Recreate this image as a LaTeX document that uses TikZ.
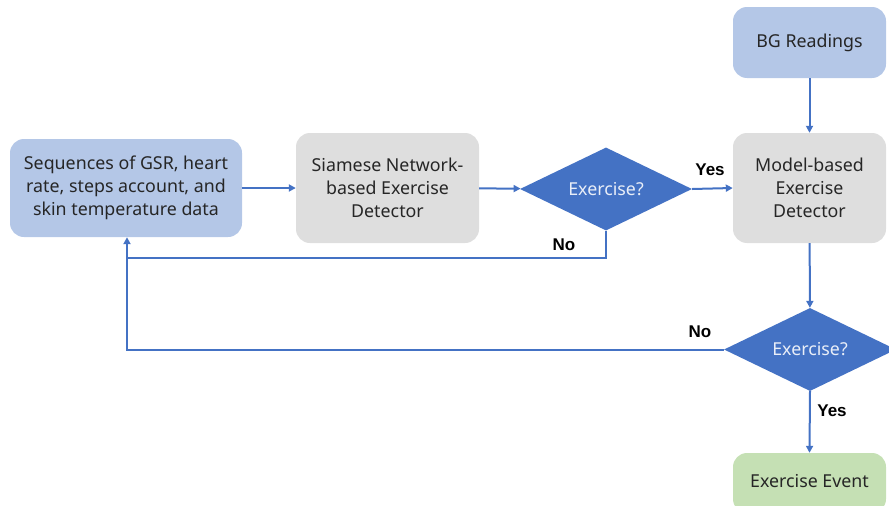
\documentclass[tikz,border=0pt]{standalone}
\usepackage{fontspec}
\setmainfont{Noto Sans}
\newfontfamily\labfont{Liberation Sans}
\usetikzlibrary{shapes.geometric,arrows.meta}
\definecolor{lblue}{HTML}{B4C7E7}
\definecolor{lgray}{HTML}{DEDEDE}
\definecolor{dblue}{HTML}{4472C4}
\definecolor{lgreen}{HTML}{C5E0B4}
\definecolor{txt}{HTML}{262626}
\tikzset{
  box/.style={rounded corners=14pt, align=center, text=txt, font=\fontsize{17.8}{23}\selectfont, inner sep=0pt},
  bluebox/.style={box, fill=lblue},
  graybox/.style={box, fill=lgray},
  greenbox/.style={box, fill=lgreen},
  decision/.style={diamond, fill=dblue, text=white!88!dblue, font=\fontsize{17.8}{23}\selectfont, minimum width=172pt, minimum height=83pt, inner sep=0pt, aspect=2},
  conn/.style={draw=dblue, line width=2pt, -{Triangle[length=7pt,width=7pt]}},
  line/.style={draw=dblue, line width=2pt},
  lab/.style={font=\labfont\bfseries\fontsize{17}{20}\selectfont, text=black}
}
\begin{document}
\begin{tikzpicture}[x=1pt,y=-1pt]
\useasboundingbox (0,0) rectangle (889,506);
\clip (0,0) rectangle (889,506);
\node[bluebox, minimum width=232pt, minimum height=98pt] (seq) at (126,188) {Sequences of GSR, heart\\rate, steps account, and\\skin temperature data};
\node[graybox, minimum width=183pt, minimum height=110pt] (siam) at (387.5,188) {Siamese Network-\\based Exercise\\Detector};
\node[decision] (d1) at (606,189) {Exercise?};
\node[graybox, minimum width=153pt, minimum height=110pt] (model) at (809.5,188) {Model-based\\Exercise\\Detector};
\node[bluebox, minimum width=153pt, minimum height=71pt] (bg) at (809.5,42.5) {BG Readings};
\node[decision] (d2) at (810,349.5) {Exercise?};
\node[greenbox, minimum width=153pt, minimum height=60pt] (ev) at (809.5,483) {};
\node[text=txt, font=\fontsize{17.8}{23}\selectfont] (evt) at (809.5,481) {Exercise Event};
\coordinate (c1) at (606,258);
\coordinate (c2) at (127,258);
\coordinate (c3) at (127,349.5);

\draw[conn] (seq) -- (siam);
\draw[conn] (siam) -- (d1);
\draw[conn] (d1.east) -- (model.west);
\node[lab] (yes1) at (710,170) {Yes};
\draw[conn] (d1.south) -- (c1) -- (c2) -- (c2 |- seq.south);
\node[lab] (no1) at (564,245) {No};
\draw[conn] (bg) -- (model);
\draw[conn] (model) -- (d2);
\draw[line] (d2.west) -- (c3) -- (c2);
\node[lab] (no2) at (700,332) {No};
\draw[conn] (d2.south) -- (ev.north);
\node[lab] (yes2) at (832,411) {Yes};
\end{tikzpicture}
\end{document}
